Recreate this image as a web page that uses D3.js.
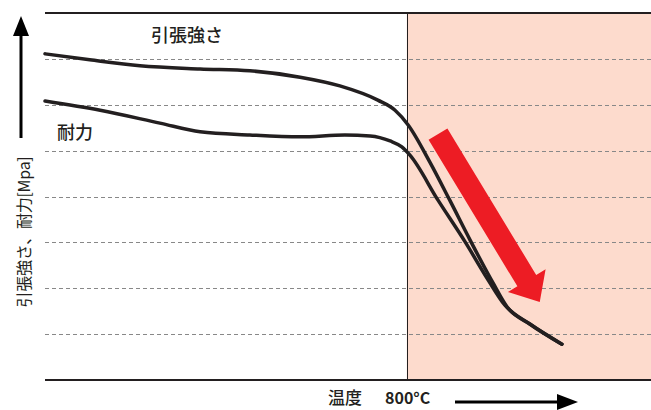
<!DOCTYPE html>
<html><head><meta charset="utf-8">
<script src="https://cdn.jsdelivr.net/npm/d3@7"></script>
<style>
html,body{margin:0;padding:0;background:#fff;}
svg{display:block;}
text{font-family:"Noto Sans CJK JP","Noto Sans",sans-serif;fill:#231f20;}
.palt{font-feature-settings:"palt";}
</style></head>
<body>
<svg id="c" width="651" height="410"></svg>
<script>
// Data (temperature in °C-like units, strength in MPa-like units)
const tensileTemp = [0, 99, 210, 343, 453, 564, 652, 736, 774, 803, 851, 895, 940, 991, 1022, 1072, 1143];
const tensileVal  = [711, 698, 685, 678, 674, 660, 641, 610, 588, 556, 475, 392, 305, 211, 159, 122, 78];
const yieldTemp   = [0, 122, 254, 343, 453, 564, 663, 719, 763, 789, 807, 869, 929, 980, 1017, 1072, 1143];
const yieldVal    = [608, 588, 560, 541, 534, 530, 534, 532, 521, 508, 490, 392, 301, 218, 163, 122, 78];
const gridValues  = [100, 200, 300, 400, 500, 600, 700];
const boundaryTemp = 800;
const arrowFrom = [869, 536];
const arrowTo   = [1094, 170];
const labels = {tensile: "引張強さ", yield: "耐力", yAxis: "引張強さ、耐力[Mpa]", xAxis: "温度", xMark: "800°C"};

const svg = d3.select("#c");
const L = 45, R = 651, T = 13, B = 380;
const x = d3.scaleLinear().domain([0, 1340]).range([L, R]);
const y = d3.scaleLinear().domain([0, 800]).range([B, T]);

// pink region
svg.append("rect").attr("x", x(boundaryTemp)).attr("y", y(800))
  .attr("width", R - x(boundaryTemp)).attr("height", y(0) - y(800))
  .attr("fill", "#fddbcd");

// gridlines
svg.append("g").selectAll("line").data(gridValues).join("line")
  .attr("x1", L).attr("x2", R)
  .attr("y1", d => Math.round(y(d)) + 0.5).attr("y2", d => Math.round(y(d)) + 0.5)
  .attr("stroke", "#888").attr("stroke-width", 1).attr("stroke-dasharray", "4,3");

// frame lines
svg.append("line").attr("x1", L).attr("x2", R).attr("y1", y(800)).attr("y2", y(800))
  .attr("stroke", "#231f20").attr("stroke-width", 2);
svg.append("line").attr("x1", L).attr("x2", R).attr("y1", y(0)).attr("y2", y(0))
  .attr("stroke", "#231f20").attr("stroke-width", 2);
svg.append("line").attr("x1", Math.round(x(boundaryTemp)) + 0.5).attr("x2", Math.round(x(boundaryTemp)) + 0.5)
  .attr("y1", y(800)).attr("y2", y(0)).attr("stroke", "#231f20").attr("stroke-width", 1);

// red arrow
(function(){
  const x0 = x(arrowFrom[0]), y0 = y(arrowFrom[1]);
  const x1 = x(arrowTo[0]), y1 = y(arrowTo[1]);
  const dx = x1 - x0, dy = y1 - y0, len = Math.hypot(dx, dy);
  const ux = dx / len, uy = dy / len, px = -uy, py = ux;
  const sw = 11, hw = 22, hl = 25;
  const bx = x1 - ux * hl, by = y1 - uy * hl;
  const pts = [
    [x0 + px * sw, y0 + py * sw], [bx + px * sw, by + py * sw], [bx + px * hw, by + py * hw],
    [x1, y1], [bx - px * hw, by - py * hw], [bx - px * sw, by - py * sw], [x0 - px * sw, y0 - py * sw]
  ];
  svg.append("polygon").attr("points", pts.map(p => p.join(",")).join(" ")).attr("fill", "#ed1c24");
})();

// curves
const line = d3.line().x(d => x(d[0])).y(d => y(d[1])).curve(d3.curveMonotoneX);
svg.append("path").datum(tensileTemp.map((t, i) => [t, tensileVal[i]]))
  .attr("d", line).attr("fill", "none").attr("stroke", "#231f20").attr("stroke-width", 3.5)
  .attr("stroke-linecap", "round").attr("stroke-linejoin", "round");
svg.append("path").datum(yieldTemp.map((t, i) => [t, yieldVal[i]]))
  .attr("d", line).attr("fill", "none").attr("stroke", "#231f20").attr("stroke-width", 3.5)
  .attr("stroke-linecap", "round").attr("stroke-linejoin", "round");

// labels
svg.append("text").attr("x", 151).attr("y", 42).attr("font-size", 18).attr("font-weight", 500).text(labels.tensile);
svg.append("text").attr("x", 57).attr("y", 139).attr("font-size", 18).attr("font-weight", 500).text(labels.yield);

// y axis arrow
svg.append("line").attr("x1", 21).attr("x2", 21).attr("y1", 138).attr("y2", 30)
  .attr("stroke", "#000").attr("stroke-width", 3);
svg.append("polygon").attr("points", "21,16 13,36 29,36").attr("fill", "#000");
svg.append("text").attr("transform", "translate(30,232) rotate(-90)")
  .attr("text-anchor", "middle").attr("font-size", 16).attr("letter-spacing", -0.3).text(labels.yAxis);

// x axis labels and arrow
svg.append("text").attr("x", 328).attr("y", 404).attr("font-size", 17).attr("font-weight", 500).text(labels.xAxis);
svg.append("text").attr("x", 385).attr("y", 404).attr("font-size", 16).attr("font-weight", 700)
  .attr("font-family", "'Liberation Sans',Arial,sans-serif").text(labels.xMark);
svg.append("line").attr("x1", 455).attr("x2", 565).attr("y1", 402).attr("y2", 402)
  .attr("stroke", "#000").attr("stroke-width", 3);
svg.append("polygon").attr("points", "578,402 557,394 557,410").attr("fill", "#000");
</script>
</body></html>
